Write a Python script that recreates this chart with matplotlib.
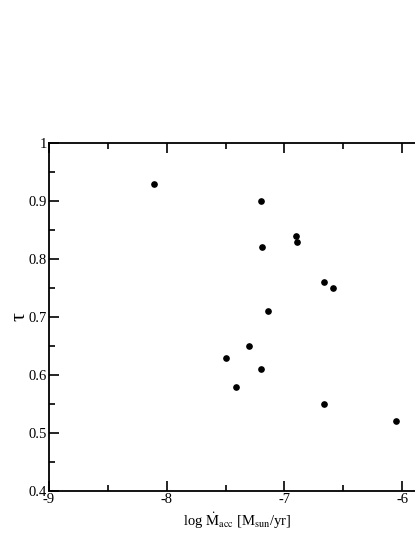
import numpy as np
import matplotlib
matplotlib.use("Agg")
import matplotlib.pyplot as plt
from matplotlib.ticker import MultipleLocator

plt.rcParams["font.family"] = ["Liberation Serif", "DejaVu Serif"]
plt.rcParams["mathtext.fontset"] = "stix"

# log accretion rate and tau
log_macc = [-8.11, -7.20, -7.19, -6.90, -6.89, -6.66, -6.59, -7.14,
            -7.50, -7.30, -7.41, -7.20, -6.66, -6.05]
tau = [0.93, 0.90, 0.82, 0.84, 0.83, 0.76, 0.75, 0.71,
       0.63, 0.65, 0.58, 0.61, 0.55, 0.52]

fig = plt.figure(figsize=(4.15, 5.37), dpi=100)
# axes runs past the right edge of the figure, like the original
ax = fig.add_axes([49/415, 1 - 491/537, 117.7*3.2/415, 348/537])

ax.plot(log_macc, tau, "o", color="black", ms=3.8, clip_on=False)

ax.set_xlim(-9, -5.8)
ax.set_ylim(0.4, 1.0)
ax.xaxis.set_minor_locator(MultipleLocator(0.5))
ax.yaxis.set_minor_locator(MultipleLocator(0.05))
ax.set_xticks([-9, -8, -7, -6])
ax.set_xticklabels(["-9", "-8", "-7", "-6"])
ax.set_yticks([0.4, 0.5, 0.6, 0.7, 0.8, 0.9, 1.0])
ax.set_yticklabels(["0.4", "0.5", "0.6", "0.7", "0.8", "0.9", "1"])
ax.tick_params(which="both", direction="in", top=True, right=True, width=1.2,
               labelsize=10.5, pad=1.5)
ax.tick_params(which="major", length=7)
ax.tick_params(which="minor", length=4)
for s in ax.spines.values():
    s.set_linewidth(1.3)

ax.set_xlabel(r"log $\dot{\mathrm{M}}_{\mathrm{acc}}$ [M$_{\mathrm{sun}}$/yr]", fontsize=10.5, labelpad=3)
ax.set_ylabel("τ", fontsize=16, rotation=90, labelpad=-1)

fig.savefig("out.png", dpi=100)
